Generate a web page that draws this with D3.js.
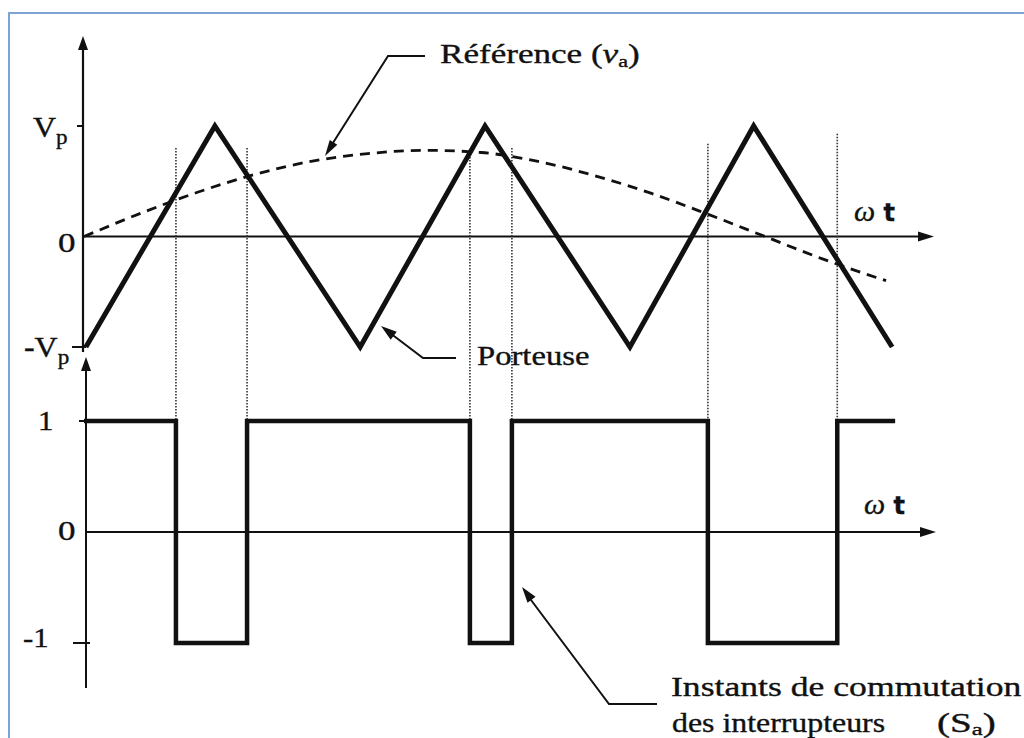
<!DOCTYPE html>
<html>
<head>
<meta charset="utf-8">
<script src="https://cdn.jsdelivr.net/npm/d3@7"></script>
<style>
  html, body { margin: 0; padding: 0; background: #fff; }
  svg { display: block; }
</style>
</head>
<body>
<div id="chart"></div>
<script>
// angles en degrés (ωt), tensions en unités de Vp
const carrierT = [0.5, 34.6, 73, 106, 144.3, 177, 213.6]
const carrierV = [-1, 1, -1, 1, -1, 1, -1]

// référence (tirets)
const refT = [0, 15, 30, 45, 60, 75, 90, 105, 120, 135, 150, 165, 180, 195, 212]
const refV = [0, 0.21, 0.40, 0.56, 0.68, 0.75, 0.78, 0.76, 0.68, 0.55, 0.39, 0.20, 0, -0.20, -0.40]

// instants de commutation et état de l'interrupteur Sa
const switchT = [24.3, 43.1, 102, 113.1, 164.9, 199.1]
const switchS = [-1, 1, -1, 1, -1, 1]
const startS = 1
const endT = 214.4
const guideTop = [0.8, 0.8, 0.72, 0.8, 0.84, 0.93]

const W = 1024, H = 738
const svg = d3.select("#chart").append("svg").attr("width", W).attr("height", H)
svg.append("rect").attr("width", W).attr("height", H).attr("fill", "#fff")

// cadre bleu
svg.append("path").attr("d", "M9,738V13H1024").attr("fill", "none")
  .attr("stroke", "#7ea3d6").attr("stroke-width", 2)

const x = d3.scaleLinear().domain([0, 180]).range([84, 765])
const yTop = d3.scaleLinear().domain([-1, 1]).range([347, 126])
const yBot = d3.scaleLinear().domain([-1, 1]).range([643, 421])

const ink = "#111"

function arrowHead(g, tipX, tipY, angle, len = 14, wid = 9) {
  // angle : direction de la flèche (radians)
  const bx = tipX - len * Math.cos(angle), by = tipY - len * Math.sin(angle)
  const px = -Math.sin(angle) * wid / 2, py = Math.cos(angle) * wid / 2
  g.append("path")
    .attr("d", `M${tipX},${tipY}L${bx + px},${by + py}L${bx - px},${by - py}Z`)
    .attr("fill", ink)
}

const axes = svg.append("g").attr("stroke", ink).attr("fill", "none")

// axes du haut
axes.append("line").attr("x1", 83).attr("x2", 83).attr("y1", 44).attr("y2", 352).attr("stroke-width", 2.2)
arrowHead(svg, 83, 36, -Math.PI / 2, 14, 10)
axes.append("line").attr("x1", 83).attr("x2", 924).attr("y1", yTop(0)).attr("y2", yTop(0)).attr("stroke-width", 2)
arrowHead(svg, 934, yTop(0), 0, 16, 10)
axes.append("line").attr("x1", 77).attr("x2", 84).attr("y1", yTop(1)).attr("y2", yTop(1)).attr("stroke-width", 2)
axes.append("line").attr("x1", 72).attr("x2", 86).attr("y1", yTop(-1)).attr("y2", yTop(-1)).attr("stroke-width", 2)

// axes du bas
axes.append("line").attr("x1", 86).attr("x2", 86).attr("y1", 366).attr("y2", 688).attr("stroke-width", 2)
arrowHead(svg, 86, 357, -Math.PI / 2, 14, 10)
axes.append("line").attr("x1", 86).attr("x2", 926).attr("y1", yBot(0)).attr("y2", yBot(0)).attr("stroke-width", 2)
arrowHead(svg, 936, yBot(0), 0, 16, 10)
axes.append("line").attr("x1", 79).attr("x2", 86).attr("y1", yBot(1)).attr("y2", yBot(1)).attr("stroke-width", 2)
axes.append("line").attr("x1", 73).attr("x2", 90).attr("y1", yBot(-1)).attr("y2", yBot(-1)).attr("stroke-width", 2)

// lignes pointillées des instants de commutation
svg.append("g").selectAll("line")
  .data(switchT)
  .join("line")
  .attr("x1", d => x(d)).attr("x2", d => x(d))
  .attr("y1", (d, i) => yTop(guideTop[i]))
  .attr("y2", yBot(1))
  .attr("stroke", "#333")
  .attr("stroke-width", 1.6)
  .attr("stroke-dasharray", "1.5,1.5")

// porteuse triangulaire
const carrier = carrierT.map((t, i) => [t, carrierV[i]])
svg.append("path")
  .datum(carrier)
  .attr("d", d3.line().x(d => x(d[0])).y(d => yTop(d[1])))
  .attr("fill", "none").attr("stroke", ink).attr("stroke-width", 5)
  .attr("stroke-linejoin", "miter")

// référence sinusoïdale
const ref = refT.map((t, i) => [t, refV[i]])
svg.append("path")
  .datum(ref)
  .attr("d", d3.line().curve(d3.curveMonotoneX).x(d => x(d[0])).y(d => yTop(d[1])))
  .attr("fill", "none").attr("stroke", ink).attr("stroke-width", 2.8)
  .attr("stroke-dasharray", "10,7")

// signal de commutation
const steps = [[0, startS]].concat(switchT.map((t, i) => [t, switchS[i]]), [[endT, switchS[switchS.length - 1]]])
svg.append("path")
  .datum(steps)
  .attr("d", d3.line().curve(d3.curveStepAfter).x(d => x(d[0])).y(d => yBot(d[1])))
  .attr("fill", "none").attr("stroke", ink).attr("stroke-width", 4.5)
  .attr("stroke-linejoin", "miter")

// flèches d'annotation
const leaders = svg.append("g").attr("stroke", ink).attr("fill", "none").attr("stroke-width", 2)
leaders.append("polyline").attr("points", "425,56 388,56 331,146")
arrowHead(svg, 325, 156, Math.atan2(156 - 56, 325 - 388), 16, 9)
leaders.append("polyline").attr("points", "456,358 423,358 390,333")
arrowHead(svg, 381, 326, Math.atan2(326 - 358, 381 - 423), 16, 10)
leaders.append("polyline").attr("points", "657,704 609,704 528,596")
arrowHead(svg, 522, 587, Math.atan2(587 - 704, 522 - 609), 16, 10)

// textes
const serif = "'Liberation Serif', 'Times New Roman', serif"
function label(px, py, parts, size, sx) {
  const t = svg.append("text")
    .attr("transform", `translate(${px},${py}) scale(${sx},1)`)
    .attr("font-family", serif)
    .attr("font-size", size)
    .attr("fill", ink)
    .attr("stroke", ink)
    .attr("stroke-width", 0.35)
  parts.forEach(p => {
    const s = t.append("tspan").text(p.text)
    if (p.italic) s.attr("font-style", "italic")
    if (p.size) s.attr("font-size", p.size)
    if (p.dy) s.attr("dy", p.dy)
    if (p.family) s.attr("font-family", p.family)
    if (p.weight) s.attr("font-weight", p.weight)
  })
  return t
}

label(440, 63, [{ text: "Référence (" }, { text: "v", italic: true }, { text: "a", size: 17, dy: 4 }, { text: ")", dy: -4 }], 27, 1.3)
label(33, 137, [{ text: "V" }, { text: "p", size: 21, dy: 7 }], 29, 1.1)
label(58, 252, [{ text: "0" }], 28, 1.25)
label(24, 357, [{ text: "-V" }, { text: "p", size: 21, dy: 7 }], 29, 1.1)
label(477, 365, [{ text: "Porteuse" }], 27, 1.21)
label(854, 221, [{ text: "ω", italic: true }, { text: " t", family: "'DejaVu Sans', sans-serif", weight: "bold", size: 24 }], 30, 1.0)
label(38, 430, [{ text: "1" }], 28, 1.1)
label(58, 540, [{ text: "0" }], 28, 1.25)
label(23, 647, [{ text: "-1" }], 28, 1.1)
label(864, 514, [{ text: "ω", italic: true }, { text: " t", family: "'DejaVu Sans', sans-serif", weight: "bold", size: 24 }], 30, 1.0)
label(671, 696, [{ text: "Instants de commutation" }], 27, 1.32)
label(672, 732, [{ text: "des interrupteurs" }], 27, 1.18)
label(937, 732, [{ text: "(S" }, { text: "a", size: 17, dy: 3 }, { text: ")", dy: -3 }], 27, 1.45)
</script>
</body>
</html>
